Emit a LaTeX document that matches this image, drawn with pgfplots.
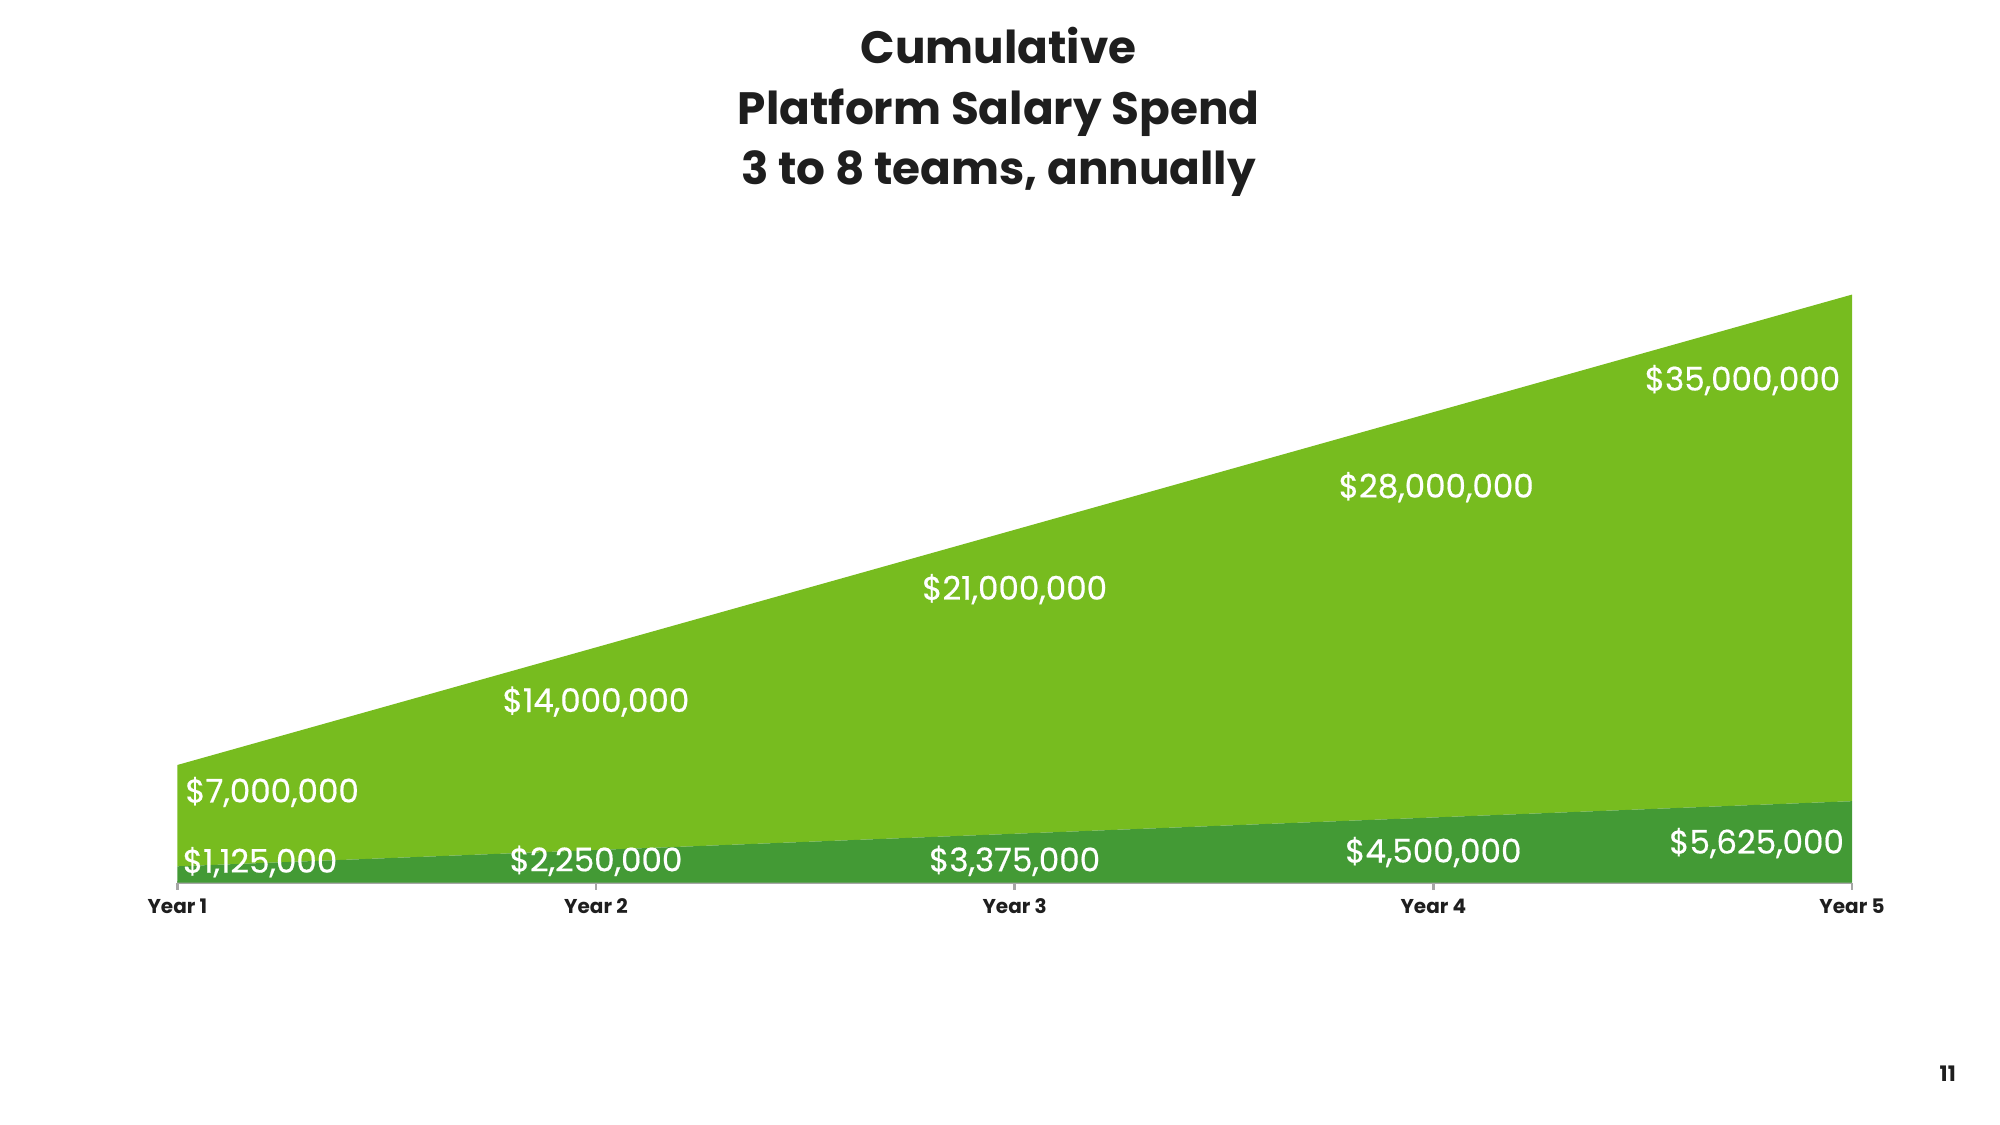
\documentclass[border=0pt]{standalone}
\usepackage{pgfplots}
\pgfplotsset{compat=1.18}
\usepackage{fontspec}
\setmainfont{Poppins}
\newfontfamily\labfamily[FakeBold=0.5]{Poppins}
\definecolor{lightg}{HTML}{77BC1F}
\definecolor{darkg}{HTML}{439A35}
\definecolor{axgray}{HTML}{A6A6A6}
\definecolor{ink}{HTML}{1E1E1E}
\newcommand{\labfont}{\labfamily\fontsize{12.2}{14}\selectfont}
\newcommand{\tickfont}{\bfseries\fontsize{7.5}{9}\selectfont}
\tikzset{lab/.style={text=white, font=\labfont, inner sep=0pt}}
\pgfplotsset{common/.style={
  at={(66.5pt,90.9pt)}, anchor=south west,
  width=628pt, height=220.5pt, scale only axis,
  xmin=0, xmax=4, ymin=0, ymax=40.625, clip=false}}
\begin{document}
\begin{tikzpicture}
\path[use as bounding box] (0,0) rectangle (750pt,421.875pt);
\begin{axis}[
  common,
  axis x line*=bottom, axis y line=none,
  x axis line style={-, axgray, line width=0.9pt},
  xtick={0,1,2,3,4},
  xticklabels={Year 1,Year 2,Year 3,Year 4,Year 5},
  tick align=outside, major tick length=2.6pt,
  xtick style={axgray, line width=0.9pt},
  xticklabel style={font=\tickfont, text=ink},
  stack plots=y,
]
\addplot[fill=darkg, draw=none] coordinates {(0,1.125) (1,2.25) (2,3.375) (3,4.5) (4,5.625)} \closedcycle;
\addplot[fill=lightg, draw=none] coordinates {(0,7) (1,14) (2,21) (3,28) (4,35)} \closedcycle;
\end{axis}
\begin{axis}[common, hide axis]
\node[lab, anchor=west] at (axis cs:0.018,6.26) {\$7,000,000};
\node[lab, anchor=west] at (axis cs:0.012,1.41) {\$1,125,000};
\node[lab] at (axis cs:1.0,12.51) {\$14,000,000};
\node[lab] at (axis cs:1.0,1.50) {\$2,250,000};
\node[lab] at (axis cs:2.0,20.27) {\$21,000,000};
\node[lab] at (axis cs:2.0,1.50) {\$3,375,000};
\node[lab] at (axis cs:3.007,27.32) {\$28,000,000};
\node[lab] at (axis cs:3.0,2.11) {\$4,500,000};
\node[lab, anchor=east] at (axis cs:3.973,34.72) {\$35,000,000};
\node[lab, anchor=east] at (axis cs:3.982,2.73) {\$5,625,000};
\end{axis}
\node[align=center, text=ink, font=\bfseries\fontsize{17}{22.7}\selectfont] at (374.5pt,379.8pt) {Cumulative\\Platform Salary Spend\\3 to 8 teams, annually};
\node[text=ink, font=\bfseries\fontsize{8}{9}\selectfont] at (730.4pt,19.2pt) {11};
\end{tikzpicture}
\end{document}
